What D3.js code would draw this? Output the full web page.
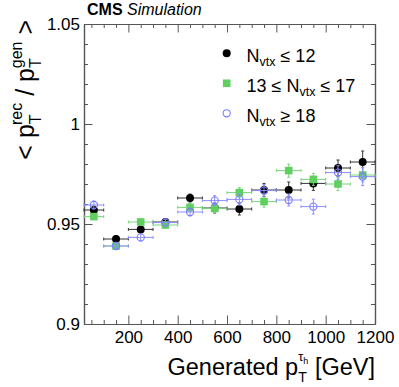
<!DOCTYPE html>
<html>
<head>
<meta charset="utf-8">
<script src="https://cdn.jsdelivr.net/npm/d3@7"></script>
<style>
  body { margin: 0; background: #fff; }
  svg text { font-family: "Liberation Sans", Arial, Helvetica, sans-serif; }
</style>
</head>
<body>
<div class="chart"></div>
<script>
(function() {

// bin edges in generated pT (GeV)
var binEdges = [20, 100, 200, 300, 400, 500, 600, 700, 800, 900, 1000, 1100, 1200];

// <pT rec / pT gen> per bin, three pile-up categories
var nvtxLow     = [0.957, 0.9425, 0.9473, 0.951, 0.963, 0.958, 0.9575, 0.967, 0.967, 0.9703, 0.978, 0.981];
var nvtxLowErr  = [0.002, 0.0015, 0.0015, 0.0015, 0.002, 0.0025, 0.003, 0.0033, 0.004, 0.0035, 0.004, 0.0055];
var nvtxMid     = [0.9537, 0.939, 0.951, 0.9495, 0.9583, 0.9578, 0.9657, 0.9612, 0.9767, 0.9723, 0.970, 0.9745];
var nvtxMidErr  = [0.0015, 0.0012, 0.0015, 0.0015, 0.002, 0.002, 0.0025, 0.0028, 0.0033, 0.003, 0.0033, 0.0035];
var nvtxHigh    = [0.9595, 0.939, 0.9433, 0.9507, 0.956, 0.9617, 0.9623, 0.9667, 0.962, 0.9587, 0.9757, 0.9737];
var nvtxHighErr = [0.002, 0.0015, 0.0018, 0.0018, 0.002, 0.0025, 0.0028, 0.003, 0.003, 0.0037, 0.0035, 0.0045];

var xTicks = [200, 400, 600, 800, 1000, 1200];
var xMinor = [50, 100, 150, 250, 300, 350, 450, 500, 550, 650, 700, 750, 850, 900, 950, 1050, 1100, 1150];
var yTicks = [0.9, 0.95, 1, 1.05];
var yTickLabels = ['0.9', '0.95', '1', '1.05'];
var yMinor = [0.91, 0.92, 0.93, 0.94, 0.96, 0.97, 0.98, 0.99, 1.01, 1.02, 1.03, 1.04];

var W = 399, H = 387;
var left = 84, right = 375, top = 24, bottom = 324;

var svg = d3.select('.chart')
  .append('svg')
  .attr('width', W)
  .attr('height', H);

var x = d3.scaleLinear().domain([20, 1200]).range([left, right]);
var y = d3.scaleLinear().domain([0.9, 1.05]).range([bottom, top]);

var axisColor = '#555';

function styleAxis(g) {
  g.selectAll('path.domain').attr('stroke', axisColor).attr('stroke-width', 1.2);
  g.selectAll('line').attr('stroke', axisColor).attr('stroke-width', 1);
  g.selectAll('text').attr('fill', '#000').style('font-size', '17px')
    .style('font-family', '"Liberation Sans", Arial, sans-serif');
}

// bottom
svg.append('g').attr('transform', 'translate(0,' + bottom + ')')
  .call(d3.axisBottom(x).tickValues(xMinor).tickSize(-4).tickSizeOuter(0).tickFormat(''))
  .call(styleAxis);
svg.append('g').attr('transform', 'translate(0,' + bottom + ')')
  .call(d3.axisBottom(x).tickValues(xTicks).tickSize(-8.5).tickSizeOuter(0).tickPadding(7).tickFormat(d3.format('d')))
  .call(styleAxis);
// top
svg.append('g').attr('transform', 'translate(0,' + top + ')')
  .call(d3.axisTop(x).tickValues(xMinor).tickSize(-4).tickSizeOuter(0).tickFormat(''))
  .call(styleAxis);
svg.append('g').attr('transform', 'translate(0,' + top + ')')
  .call(d3.axisTop(x).tickValues(xTicks).tickSize(-8.5).tickSizeOuter(0).tickFormat(''))
  .call(styleAxis);
// left
svg.append('g').attr('transform', 'translate(' + left + ',0)')
  .call(d3.axisLeft(y).tickValues(yMinor).tickSize(-4).tickSizeOuter(0).tickFormat(''))
  .call(styleAxis);
svg.append('g').attr('transform', 'translate(' + left + ',0)')
  .call(d3.axisLeft(y).tickValues(yTicks).tickSize(-8.5).tickSizeOuter(0).tickPadding(4)
    .tickFormat(function(d, i) { return yTickLabels[i]; }))
  .call(styleAxis);
// right
svg.append('g').attr('transform', 'translate(' + right + ',0)')
  .call(d3.axisRight(y).tickValues(yMinor).tickSize(-4).tickSizeOuter(0).tickFormat(''))
  .call(styleAxis);
svg.append('g').attr('transform', 'translate(' + right + ',0)')
  .call(d3.axisRight(y).tickValues(yTicks).tickSize(-8.5).tickSizeOuter(0).tickFormat(''))
  .call(styleAxis);

// series
var series = [
  { vals: nvtxLow,  errs: nvtxLowErr,  color: '#000000', bar: '#333333', shape: 'dot' },
  { vals: nvtxMid,  errs: nvtxMidErr,  color: '#5fcf5f', bar: '#7ad67a', shape: 'square' },
  { vals: nvtxHigh, errs: nvtxHighErr, color: '#7b7bff', bar: '#8f8fff', shape: 'open' }
];

var plot = svg.append('g');

series.forEach(function(s) {
  var data = s.vals.map(function(v, i) {
    return { lo: binEdges[i], hi: binEdges[i + 1], v: v, e: s.errs[i] };
  });
  var g = plot.append('g');

  var pts = g.selectAll('g.pt').data(data).enter().append('g').attr('class', 'pt');

  // horizontal bin width
  pts.append('line')
    .attr('x1', function(d) { return x(d.lo); })
    .attr('x2', function(d) { return x(d.hi); })
    .attr('y1', function(d) { return y(d.v); })
    .attr('y2', function(d) { return y(d.v); })
    .attr('stroke', s.bar).attr('stroke-width', 1);
  // end caps
  [ 'lo', 'hi' ].forEach(function(k) {
    pts.append('line')
      .attr('x1', function(d) { return x(d[k]); })
      .attr('x2', function(d) { return x(d[k]); })
      .attr('y1', function(d) { return y(d.v) - 1.5; })
      .attr('y2', function(d) { return y(d.v) + 1.5; })
      .attr('stroke', s.bar).attr('stroke-width', 1);
  });
  // vertical error
  pts.append('line')
    .attr('x1', function(d) { return x((d.lo + d.hi) / 2); })
    .attr('x2', function(d) { return x((d.lo + d.hi) / 2); })
    .attr('y1', function(d) { return y(d.v - d.e); })
    .attr('y2', function(d) { return y(d.v + d.e); })
    .attr('stroke', s.bar).attr('stroke-width', 1);
  [ -1, 1 ].forEach(function(sg) {
    pts.append('line')
      .attr('x1', function(d) { return x((d.lo + d.hi) / 2) - 1.5; })
      .attr('x2', function(d) { return x((d.lo + d.hi) / 2) + 1.5; })
      .attr('y1', function(d) { return y(d.v + sg * d.e); })
      .attr('y2', function(d) { return y(d.v + sg * d.e); })
      .attr('stroke', s.bar).attr('stroke-width', 1);
  });

  drawMarker(pts, s, function(d) { return x((d.lo + d.hi) / 2); }, function(d) { return y(d.v); });
});

function drawMarker(sel, s, fx, fy) {
  if (s.shape === 'square') {
    sel.append('rect')
      .attr('x', function(d) { return fx(d) - 3.8; })
      .attr('y', function(d) { return fy(d) - 3.8; })
      .attr('width', 7.6).attr('height', 7.6)
      .attr('fill', s.color);
  } else if (s.shape === 'open') {
    sel.append('circle')
      .attr('cx', fx).attr('cy', fy).attr('r', 3.6)
      .attr('fill', 'none').attr('stroke', s.color).attr('stroke-width', 1.1);
  } else {
    sel.append('circle')
      .attr('cx', fx).attr('cy', fy).attr('r', 4)
      .attr('fill', s.color);
  }
}

// legend
var legendLabels = [
  [ { t: 'N' }, { t: 'vtx', sub: true }, { t: ' \u2264 12' } ],
  [ { t: '13 \u2264 N' }, { t: 'vtx', sub: true }, { t: ' \u2264 17' } ],
  [ { t: 'N' }, { t: 'vtx', sub: true }, { t: ' \u2265 18' } ]
];

var leg = svg.append('g');
legendLabels.forEach(function(parts, i) {
  var cy = 53.3 + i * 30;
  var row = leg.append('g').datum({});
  drawMarker(row, series[i], function() { return 226.7; }, function() { return cy; });
  var txt = row.append('text')
    .attr('x', 246.5).attr('y', cy + 8.3)
    .style('font-size', '18px');
  var shifted = false;
  parts.forEach(function(p) {
    var ts = txt.append('tspan').text(p.t);
    if (p.sub) { ts.attr('dy', 4).style('font-size', '12.5px'); shifted = true; }
    else if (shifted) { ts.attr('dy', -4); shifted = false; }
  });
});

// CMS label
var cms = svg.append('text').attr('x', 87).attr('y', 15).style('font-size', '16px');
cms.append('tspan').text('CMS').style('font-weight', 'bold');
cms.append('tspan').text(' Simulation').style('font-style', 'italic');

// x axis title
var xt = svg.append('text')
  .attr('x', right).attr('y', 375)
  .attr('text-anchor', 'end')
  .style('font-size', '23.5px');
xt.append('tspan').text('Generated p');
xt.append('tspan').text('T').attr('dy', 7).style('font-size', '14px');
xt.append('tspan').text('\u03c4').attr('dx', -8.5).attr('dy', -21).style('font-size', '13px');
xt.append('tspan').text('h').attr('dy', 3).style('font-size', '9px');
xt.append('tspan').text(' [GeV]').attr('dy', 11);

// y axis title
var yt = svg.append('text')
  .attr('transform', 'translate(34,20) rotate(-90)')
  .attr('text-anchor', 'end')
  .style('font-size', '25px');
yt.append('tspan').text('< p');
yt.append('tspan').text('T').attr('dy', 7).style('font-size', '16px');
yt.append('tspan').text('rec').attr('dx', -10).attr('dy', -19).style('font-size', '16px');
yt.append('tspan').text(' / p').attr('dy', 12);
yt.append('tspan').text('T').attr('dy', 7).style('font-size', '16px');
yt.append('tspan').text('gen').attr('dx', -10).attr('dy', -19).style('font-size', '16px');
yt.append('tspan').text(' >').attr('dy', 12);

})();
</script>
</body>
</html>
